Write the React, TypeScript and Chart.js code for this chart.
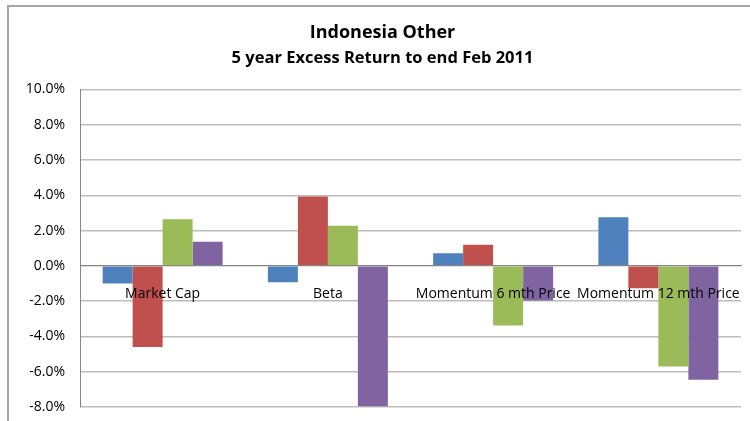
import React, { useEffect, useRef } from "react";
import { Chart, registerables } from "chart.js";

Chart.register(...registerables);

const categories = ["Market Cap", "Beta", "Momentum 6 mth Price", "Momentum 12 mth Price"];
const seriesBlue = [-1.0, -0.93, 0.71, 2.75];
const seriesRed = [-4.6, 3.93, 1.2, -1.27];
const seriesGreen = [2.64, 2.27, -3.38, -5.7];
const seriesPurple = [1.37, -7.96, -1.97, -6.45];
const yMin = -8;
const yMax = 10;
const yStep = 2;
const titleText = "Indonesia Other";
const subtitleText = "5 year Excess Return to end Feb 2011";

export default function App() {
  const ref = useRef<HTMLCanvasElement | null>(null);

  useEffect(() => {
    if (!ref.current) return;
    const font = "'Open Sans', 'Liberation Sans', sans-serif";
    const chart = new Chart(ref.current, {
      type: "bar",
      data: {
        labels: categories,
        datasets: [
          { label: "Series 1", data: seriesBlue, backgroundColor: "#4F81BD" },
          { label: "Series 2", data: seriesRed, backgroundColor: "#C0504D" },
          { label: "Series 3", data: seriesGreen, backgroundColor: "#9BBB59" },
          { label: "Series 4", data: seriesPurple, backgroundColor: "#8064A2" },
        ],
      },
      options: {
        animation: false,
        responsive: false,
        maintainAspectRatio: false,
        layout: { padding: { left: 24, right: 9, top: 0, bottom: 14 } },
        datasets: {
          bar: { categoryPercentage: 0.726, barPercentage: 1.0, borderWidth: 0 },
        },
        plugins: {
          legend: { display: false },
          tooltip: { enabled: false },
          title: {
            display: true,
            text: titleText,
            color: "#000",
            font: { family: font, size: 18, weight: "bold" },
            padding: { top: 22, bottom: 0 },
          },
          subtitle: {
            display: true,
            text: subtitleText,
            color: "#000",
            font: { family: font, size: 16.5, weight: "bold" },
            padding: { top: 5, bottom: 21 },
          },
        },
        scales: {
          x: {
            position: { y: 0 } as any,
            afterFit: (scale: any) => {
              scale.paddingLeft = 0;
              scale.paddingRight = 0;
            },
            grid: { display: false, drawTicks: false },
            border: { display: true, color: "#868686", width: 1 },
            ticks: {
              z: 1,
              color: "#000",
              font: { family: font, size: 14 },
              padding: 20,
              maxRotation: 0,
              autoSkip: false,
            },
          },
          y: {
            min: yMin,
            max: yMax,
            afterFit: (scale: any) => {
              scale.width = 56;
              scale.paddingTop = 0;
              scale.paddingBottom = 0;
            },
            grid: { color: "#bdbdbd", lineWidth: 1.5, drawTicks: false },
            border: { display: true, color: "#868686", width: 1 },
            ticks: {
              stepSize: yStep,
              color: "#000",
              padding: 15,
              font: { family: font, size: 14 },
              callback: (v: any) => Number(v).toFixed(1) + "%",
            },
          },
        },
      },
    });
    return () => chart.destroy();
  }, []);

  return (
    <div style={{ position: "absolute", left: 0, top: 0, width: 750, height: 421, overflow: "hidden", background: "#fff" }}>
      <div
        style={{
          position: "absolute",
          left: 7,
          top: 5,
          width: 800,
          height: 500,
          border: "2px solid #a6a6a6",
          boxSizing: "border-box",
        }}
      />
      <canvas ref={ref} width={750} height={421} style={{ position: "absolute", left: 0, top: 0, width: 750, height: 421 }} />
    </div>
  );
}
